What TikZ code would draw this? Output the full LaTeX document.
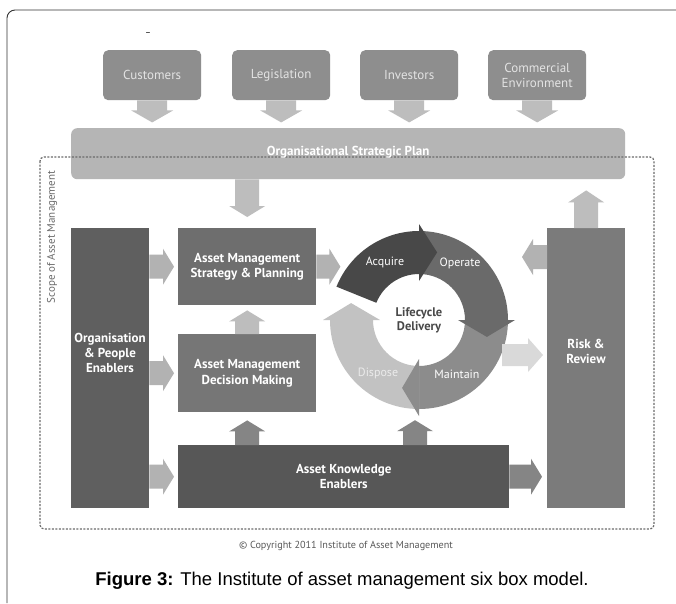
\documentclass[tikz,border=0pt]{standalone}
\usepackage{fontspec}
\setmainfont{PT Sans}
\newfontfamily\capfont{Liberation Sans}
\usetikzlibrary{calc}
\definecolor{ctop}{HTML}{8E8E8E}
\definecolor{ctoptext}{HTML}{E3E3E3}
\definecolor{cplan}{HTML}{B5B5B5}
\definecolor{corg}{HTML}{5F5F5F}
\definecolor{cstrat}{HTML}{6E6E6E}
\definecolor{cdec}{HTML}{767676}
\definecolor{cake}{HTML}{575757}
\definecolor{crisk}{HTML}{7B7B7B}
\definecolor{carrlight}{HTML}{BDBDBD}
\definecolor{carrmid}{HTML}{B2B2B2}
\definecolor{carrdark}{HTML}{858585}
\definecolor{carrpale}{HTML}{D9D9D9}
\definecolor{cacq}{HTML}{484848}
\definecolor{cope}{HTML}{6A6A6A}
\definecolor{cmai}{HTML}{8C8C8C}
\definecolor{cdis}{HTML}{C2C2C2}
\definecolor{cscope}{HTML}{6A6A6A}
\definecolor{cframe}{HTML}{333333}
\newcommand\blockarr[6]{%
  \coordinate (ba-h) at ($(#3)!#6!(#2)$);
  \fill[#1] ($(#2)!#4!90:(#3)$) -- ($(ba-h)!#4!-90:(#2)$) -- ($(ba-h)!#5!-90:(#2)$) -- (#3)
    -- ($(ba-h)!#5!90:(#2)$) -- ($(ba-h)!#4!90:(#2)$) -- ($(#2)!#4!-90:(#3)$) -- cycle;}
\begin{document}
\begin{tikzpicture}[x=1pt,y=-1pt,
  topbox/.style={rounded corners=5pt, fill=ctop, minimum width=98pt, minimum height=50pt,
    text=ctoptext, font=\fontsize{13}{14.5}\selectfont, align=center, inner sep=0pt, anchor=north west},
  mainbox/.style={fill=#1, text=white, font=\bfseries\fontsize{13}{15.5}\selectfont,
    align=center, inner sep=0pt, anchor=north west},
  boxtext/.style={text=white, font=\bfseries\fontsize{13}{15}\selectfont, align=center},
  ringtext/.style={text=white, font=\fontsize{12}{14}\selectfont},
  scopeline/.style={draw=cscope, line width=1.2pt, dash pattern=on 2pt off 1.5pt, rounded corners=4pt}]
\useasboundingbox (0,0) rectangle (676,603);
\fill[white] (0,0) rectangle (676,603);
% outer frame
\draw[cframe, line width=0.9pt, rounded corners=8pt] (7,603) -- (7,10) -- (676,10);
\node[font=\fontsize{9}{10}\selectfont, text=black] (dash) at (148,34) {\textendash};
% top boxes
\node[topbox] (cust) at (103,50) {Customers};
\node[topbox] (legi) at (232,50) {Legislation};
\node[topbox] (inv) at (360,50) {Investors};
\node[topbox] (comm) at (488,50) {Commercial\\Environment};
% plan
\node[mainbox=cplan, rounded corners=6pt, minimum width=554pt, minimum height=51pt] (plan) at (71,128) {};
% top arrows
\foreach \n in {cust,legi,inv,comm}{
  \coordinate (\n-t) at ($(\n.south)+(0,22)$);
  \blockarr{carrlight}{\n.south}{\n-t}{15pt}{21pt}{12pt}
}
% scope frame
\draw[scopeline] (40,157) rectangle (654,529);
\node[boxtext] (plant) at ($(plan.center)+(0,-1)$) {Organisational Strategic Plan};
\node[rotate=90, text=cscope, font=\fontsize{11}{13}\selectfont] (scopelbl) at (52,237) {Scope of Asset Management};
% main boxes
\node[mainbox=corg, minimum width=78pt, minimum height=280pt] (org) at (71,228) {};
\node[boxtext] (orgt) at (110,353) {Organisation\\\& People\\Enablers};
\node[mainbox=cstrat, minimum width=138pt, minimum height=77pt] (strat) at (178,228) {Asset Management\\Strategy \& Planning};
\node[mainbox=cdec, minimum width=138pt, minimum height=78pt] (dec) at (178,334) {Asset Management\\Decision Making};
\node[mainbox=cake, minimum width=331pt, minimum height=63pt] (ake) at (178,445) {Asset Knowledge\\Enablers};
\node[mainbox=crisk, minimum width=78pt, minimum height=280pt] (risk) at (547,228) {};
\node[boxtext] (riskt) at (586,351) {Risk \&\\Review};
% ring
\node[circle, minimum size=178pt, inner sep=0pt] (ring) at (419,320) {};
\begin{scope}[shift={(ring.center)}, x=1pt, y=1pt]
  \fill[cope] (90:89) arc[start angle=90, end angle=0, radius=89] -- (0:46) arc[start angle=0, end angle=90, radius=46] -- cycle;
  \fill[cmai] (0:89) arc[start angle=0, end angle=-90, radius=89] -- (-90:46) arc[start angle=-90, end angle=0, radius=46] -- cycle;
  \fill[cdis] (-90:89) arc[start angle=-90, end angle=-180, radius=89] -- (-180:46) arc[start angle=-180, end angle=-90, radius=46] -- cycle;
  \fill[cacq] (158:89) arc[start angle=158, end angle=90, radius=89] -- (90:46) arc[start angle=90, end angle=158, radius=46] -- cycle;
  \fill[cacq] (90:39) -- (90:96) -- (75:70) -- cycle;
  \fill[cope] (0:39) -- (0:96) -- (-14:70) -- cycle;
  \fill[cmai] (-90:39) -- (-90:96) -- (-104:70) -- cycle;
  \fill[cdis] (180:39) -- (180:96) -- (166:70) -- cycle;
\end{scope}
\node[ringtext] (acq) at (385,262) {Acquire};
\node[ringtext] (ope) at (460,263) {Operate};
\node[ringtext] (mai) at (457,374) {Maintain};
\node[ringtext, text=white!92!black] (dis) at (378,373) {Dispose};
\node[text=cacq, font=\bfseries\fontsize{12.5}{14}\selectfont, align=center] (life) at (419,320) {Lifecycle\\Delivery};
% connectors
\coordinate (ps-s) at (strat.north |- plan.south);
\coordinate (ps-t) at ($(strat.north)+(0,-11)$);
\blockarr{carrlight}{ps-s}{ps-t}{12pt}{18pt}{11pt}
\coordinate (os-s) at (org.east |- strat.west);
\coordinate (os-t) at ($(strat.west)+(-4,0)$);
\blockarr{carrmid}{os-s}{os-t}{12pt}{18pt}{11pt}
\coordinate (od-s) at (org.east |- dec.west);
\coordinate (od-t) at ($(dec.west)+(-4,0)$);
\blockarr{carrmid}{od-s}{od-t}{12pt}{18pt}{11pt}
\coordinate (oa-s) at (org.east |- ake.west);
\coordinate (oa-t) at ($(ake.west)+(-4,0)$);
\blockarr{carrmid}{oa-s}{oa-t}{12pt}{18pt}{11pt}
\coordinate (ds-t) at ($(strat.south)+(0,5)$);
\blockarr{carrlight}{dec.north}{ds-t}{12pt}{18pt}{11pt}
\coordinate (sr-t) at ($(strat.east)+(24,0)$);
\blockarr{carrmid}{strat.east}{sr-t}{12pt}{18pt}{11pt}
\coordinate (ad-s) at (dec.south |- ake.north);
\coordinate (ad-t) at ($(dec.south)+(0,8)$);
\blockarr{carrdark}{ad-s}{ad-t}{12pt}{18pt}{11pt}
\coordinate (ar-s) at ($(ring.south |- ake.north)+(-4,0)$);
\coordinate (ar-t) at ($(ring.south)+(-4,11)$);
\blockarr{carrdark}{ar-s}{ar-t}{12pt}{18pt}{11pt}
\coordinate (ak-t) at ($(risk.west |- ake.east)+(-5,0)$);
\blockarr{carrdark}{ake.east}{ak-t}{12pt}{18pt}{11pt}
\coordinate (rr-s) at ($(risk.north west)+(0,29)$);
\coordinate (rr-t) at ($(risk.north west)+(-25,29)$);
\blockarr{carrmid}{rr-s}{rr-t}{12pt}{18pt}{11pt}
\coordinate (cr-s) at ($(risk.north west)+(-45,127)$);
\coordinate (cr-t) at ($(risk.north west)+(-4,127)$);
\blockarr{carrpale}{cr-s}{cr-t}{11pt}{17pt}{15pt}
\coordinate (rp-t) at ($(risk.north |- plan.south)+(0,11)$);
\blockarr{carrlight}{risk.north}{rp-t}{12pt}{18pt}{12pt}
% copyright and caption
\node[text=black!65, font=\fontsize{10.2}{12}\selectfont] (copy) at (346,546) {\textcopyright\ Copyright 2011 Institute of Asset Management};
\node[font=\capfont\fontsize{18.5}{20}\selectfont] (cap) at (342,581) {\textbf{Figure 3:} The Institute of asset management six box model.};
\end{tikzpicture}
\end{document}
